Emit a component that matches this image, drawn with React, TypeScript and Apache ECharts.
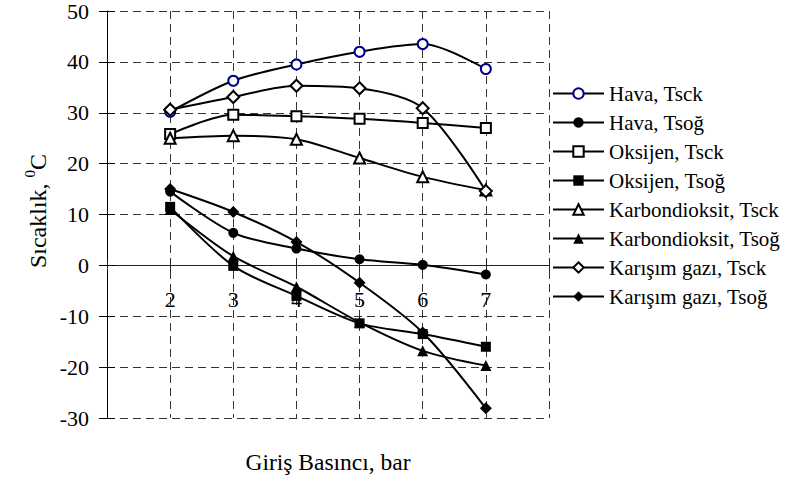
import React, { useEffect, useRef } from 'react';
import * as echarts from 'echarts';

const pressures = [2, 3, 4, 5, 6, 7];
const havaTsck = [30.2, 36.3, 39.5, 42.0, 43.5, 38.6];
const havaTsog = [14.5, 6.4, 3.3, 1.2, 0.1, -1.8];
const oksijenTsck = [25.8, 29.6, 29.3, 28.8, 28.0, 27.0];
const oksijenTsog = [11.5, -0.1, -6.0, -11.4, -13.5, -16.0];
const karbonTsck = [25.0, 25.5, 24.8, 21.1, 17.4, 14.8];
const karbonTsog = [11.0, 1.8, -4.2, -11.2, -16.8, -19.7];
const karisimTsck = [30.6, 33.1, 35.3, 34.8, 30.9, 14.6];
const karisimTsog = [15.0, 10.5, 4.6, -3.4, -13.2, -28.1];
const xTickLabels = ['2', '3', '4', '5', '6', '7'];

const seriesNames = [
  'Hava, Tsck',
  'Hava, Tsoğ',
  'Oksijen, Tsck',
  'Oksijen, Tsoğ',
  'Karbondioksit, Tsck',
  'Karbondioksit, Tsoğ',
  'Karışım gazı, Tsck',
  'Karışım gazı, Tsoğ',
];
const seriesValues = [havaTsck, havaTsog, oksijenTsck, oksijenTsog, karbonTsck, karbonTsog, karisimTsck, karisimTsog];
const seriesSymbols = ['emptyCircle', 'circle', 'emptyRect', 'rect', 'emptyTriangle', 'triangle', 'emptyDiamond', 'diamond'];
const seriesMarkerColors = ['#00008B', '#000', '#000', '#000', '#000', '#000', '#000', '#000'];
const seriesSymbolSizes = [10, 10, 10, 10, 11, 11, 12, 12];

const FONT = 'Liberation Serif';
const Y_MIN = -30;
const Y_MAX = 50;

export default function App() {
  const ref = useRef<HTMLDivElement>(null);
  useEffect(() => {
    if (!ref.current) return;
    const chart = echarts.init(ref.current, undefined, { renderer: 'svg' });
    const gridTop = 11;
    const gridBottom = 60;
    const gridH = 478 - gridTop - gridBottom;
    const zeroOffset = (gridH * (0 - Y_MIN)) / (Y_MAX - Y_MIN);
    const gridDash = { color: '#333', width: 1, type: [8, 5] as any };
    const option: any = {
      animation: false,
      backgroundColor: '#fff',
      textStyle: { fontFamily: FONT },
      grid: { left: 107, right: 240, top: gridTop, bottom: gridBottom, containLabel: false },
      legend: {
        orient: 'vertical',
        left: 547,
        top: 78,
        itemWidth: 51,
        itemHeight: 13,
        itemGap: 8,
        textStyle: { fontFamily: FONT, fontSize: 21, color: '#000', lineHeight: 21 },
        data: seriesNames,
      },
      xAxis: [
        {
          type: 'value',
          min: 1,
          max: 8,
          interval: 1,
          axisLine: { show: true, onZero: true, lineStyle: { color: '#222', width: 1 } },
          axisTick: { show: true, length: 6, lineStyle: { color: '#222' } },
          axisLabel: { show: false },
          splitLine: { show: true, lineStyle: gridDash },
        },
        {
          type: 'value',
          position: 'bottom',
          offset: -zeroOffset,
          min: 1,
          max: 8,
          interval: 1,
          axisLine: { show: false, onZero: false },
          axisTick: { show: true, inside: true, length: 6, lineStyle: { color: '#222' } },
          axisLabel: {
            show: true,
            margin: 23,
            fontFamily: FONT,
            fontSize: 22,
            color: '#000',
            formatter: (v: number) => {
              const i = pressures.indexOf(v);
              return i >= 0 ? xTickLabels[i] : '';
            },
          },
          splitLine: { show: false },
        },
      ],
      yAxis: [
        {
          type: 'value',
          min: Y_MIN,
          max: Y_MAX,
          interval: 10,
          axisLine: { show: true, onZero: false, lineStyle: { color: '#000', width: 1 } },
          axisTick: { show: true, length: 8, lineStyle: { color: '#000' } },
          axisLabel: { margin: 18, fontFamily: FONT, fontSize: 22, color: '#000' },
          splitLine: { show: true, lineStyle: gridDash },
        },
        {
          type: 'value',
          position: 'left',
          min: Y_MIN,
          max: Y_MAX,
          interval: 10,
          axisLine: { show: false, onZero: false },
          axisTick: { show: true, inside: true, length: 8, lineStyle: { color: '#000' } },
          axisLabel: { show: false },
          splitLine: { show: false },
        },
      ],
      series: seriesNames.map((name, i) => ({
        name,
        type: 'line',
        xAxisIndex: 0,
        yAxisIndex: 0,
        data: pressures.map((p, j) => [p, seriesValues[i][j]]),
        smooth: 0.3,
        symbol: seriesSymbols[i],
        symbolSize: seriesSymbolSizes[i],
        showAllSymbol: true,
        itemStyle: { color: seriesMarkerColors[i], borderWidth: 1.6 },
        lineStyle: { color: '#000', width: 2 },
        emphasis: { disabled: true },
        z: 3,
      })),
      graphic: [
        {
          type: 'text',
          x: 328,
          y: 462,
          style: {
            text: 'Giriş Basıncı, bar',
            fontFamily: FONT,
            fontSize: 23.5,
            fill: '#000',
            textAlign: 'center',
            textVerticalAlign: 'middle',
          },
        },
        {
          type: 'text',
          x: 36,
          y: 211,
          rotation: Math.PI / 2,
          style: {
            text: '{a|Sıcaklık, }{s|0}{a|C}',
            textAlign: 'center',
            textVerticalAlign: 'middle',
            fill: '#000',
            rich: {
              a: { fontFamily: FONT, fontSize: 24, lineHeight: 28, fill: '#000', verticalAlign: 'bottom' },
              s: { fontFamily: FONT, fontSize: 15, lineHeight: 28, fill: '#000', verticalAlign: 'top' },
            },
          },
        },
      ],
    };
    chart.setOption(option);
    return () => chart.dispose();
  }, []);
  return (
    <div
      ref={ref}
      style={{ position: 'fixed', left: 0, top: 0, width: 789, height: 478, background: '#fff' }}
    />
  );
}
